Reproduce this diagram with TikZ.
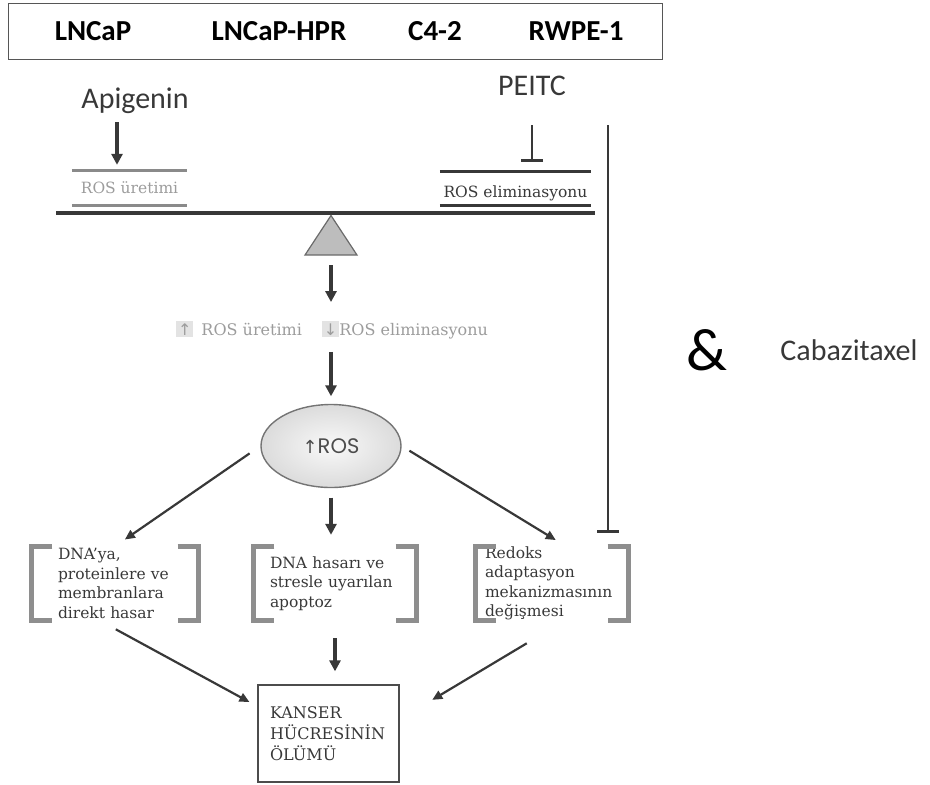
\documentclass[tikz,border=0pt]{standalone}
\usepackage{fontspec}
\setmainfont{DejaVu Serif}
\newfontfamily\carlito{Carlito}
\newfontfamily\poppins{Poppins}
\newfontfamily\dejasans{DejaVu Sans}
\usetikzlibrary{arrows.meta,positioning,calc,shapes.geometric}
\definecolor{ink}{HTML}{383838}
\definecolor{pangray}{HTML}{8A8A8A}
\definecolor{fadegray}{HTML}{9C9C9C}
\definecolor{brkgray}{HTML}{8E8E8E}
\definecolor{hilite}{HTML}{E3E3E3}
\definecolor{trigray}{HTML}{BDBDBD}
\setlength{\fboxsep}{2pt}
\newcommand{\upar}{{\dejasans ↑}}
\newcommand{\dnar}{{\dejasans ↓}}

\begin{document}
\begin{tikzpicture}[x=1pt,y=-1pt,
 cell/.style={inner sep=0pt,anchor=base,font=\carlito\bfseries\fontsize{29}{32}\selectfont},
 drug/.style={inner sep=0pt,anchor=base,text=ink,font=\carlito\fontsize{30}{34}\selectfont},
 pan/.style={minimum height=34pt,inner sep=0pt,text depth=0pt,font=\fontsize{15.5}{17}\selectfont},
 effect/.style={minimum height=74pt,inner ysep=0pt,align=left,text=ink,font=\fontsize{15.5}{19.5}\selectfont},
 brk/.style={draw=brkgray,line width=5.5pt,line join=miter},
 arr/.style={draw=ink,line width=2.2pt,-{Triangle[length=10pt,width=9pt]}},
 arrv/.style={draw=ink,line width=3.6pt,-{Triangle[length=11pt,width=11pt]}},
 inh/.style={draw=ink,line width=2.6pt,-{Bar[width=22pt,line width=3pt]}}]

\useasboundingbox (0,0) rectangle (930,785);

% cell lines
\node[draw=ink!85,line width=1pt,minimum width=654pt,minimum height=56pt,inner sep=0pt] (cells) at (335,31.5) {};
\node[cell] (lncap) at (93,40) {LNCaP};
\node[cell] (hpr) at (279,40) {LNCaP-HPR};
\node[cell] (c42) at (435,40) {C4-2};
\node[cell] (rwpe) at (576,40) {RWPE-1};

\node[drug] (api) at (135,108) {Apigenin};
\node[drug] (peitc) at (532,95) {PEITC};

% balance
\node[pan,minimum width=115pt,text=fadegray] (prod) at (129.5,188) {ROS üretimi};
\node[pan,minimum width=151pt,text=ink,text height=17pt] (elim) at (515.5,188.5) {ROS eliminasyonu};
\foreach \p/\c in {prod/pangray,elim/ink}{
  \draw[draw=\c,line width=3pt] (\p.north west) -- (\p.north east);
  \draw[draw=\c,line width=3pt] (\p.south west) -- (\p.south east);
}
\draw[draw=ink,line width=3.5pt] (56,213) -- (595,213);
\draw[draw=ink!75,fill=trigray,line width=1.2pt] (331,215.5) -- (357,255) -- (305,255) -- cycle;
\coordinate (pivot) at (331,255);

\node[inner sep=0pt,anchor=base,text=fadegray,font=\fontsize{16}{18}\selectfont] (shift) at (332,335)
 {\colorbox{hilite}{\upar}\hspace{8pt}ROS üretimi\hspace{20pt}\colorbox{hilite}{\dnar}ROS eliminasyonu};

\node[ellipse,draw=ink!70,line width=1.4pt,inner color=gray!5,outer color=gray!28,minimum width=140pt,minimum height=83pt,inner sep=0pt,text=ink!90] (ros) at (331,446)
 {{\dejasans\fontsize{18}{18}\selectfont ↑}{\poppins\fontsize{21}{21}\selectfont ROS}};

% effects
\node[effect,text width=114pt,inner xsep=26.5pt] (dmg1) at (115,583.5) {DNA'ya,\\ proteinlere ve\\ membranlara\\ direkt hasar};
\node[effect,text width=130pt,inner xsep=16.5pt] (dmg2) at (335,583.5) {DNA hasarı ve\\ stresle uyarılan\\ apoptoz};
\node[effect,text width=134pt,inner xsep=9.5pt] (dmg3) at (552,583.5) {Redoks\\ adaptasyon\\ mekanizmasının\\ değişmesi};
\foreach \n in {dmg1,dmg2,dmg3}{
  \draw[brk] ([xshift=21pt]\n.north west) -- (\n.north west) -- (\n.south west) -- ([xshift=21pt]\n.south west);
  \draw[brk] ([xshift=-21pt]\n.north east) -- (\n.north east) -- (\n.south east) -- ([xshift=-21pt]\n.south east);
}

\node[draw=ink!90,line width=1.3pt,minimum width=141pt,minimum height=97pt,text width=117pt,inner xsep=12pt,align=left,text=ink,font=\fontsize{16}{21}\selectfont] (death) at (328.5,733.5) {KANSER\\ HÜCRESİNİN\\ ÖLÜMÜ};

\node[inner sep=0pt,anchor=base,font=\carlito\fontsize{60}{60}\selectfont] (amp) at (707,370) {\&};
\node[drug] (caba) at (849,360) {Cabazitaxel};

% arrows
\draw[arrv,shorten <=9pt,shorten >=6pt] ($(api.south)+(-18,0)$) -- ($(prod.north)+(-12.5,0)$);
\draw[inh,shorten <=30pt,shorten >=9pt] (peitc.south) -- (peitc.south |- elim.north);
\draw[arrv,shorten <=10pt,shorten >=19pt] (pivot) -- (pivot |- shift.north);
\draw[arrv,shorten <=13pt,shorten >=7.5pt] (pivot |- shift.south) -- (pivot |- ros.north);
\draw[arr,shorten <=13pt,shorten >=12pt] (ros.west) -- (dmg1.north);
\draw[arrv,shorten <=9.5pt,shorten >=11.5pt] (ros.south) -- (ros.south |- dmg2.north);
\draw[arr,shorten <=9pt,shorten >=12pt] (ros.east) -- ([xshift=14pt]dmg3.north);
\coordinate (cabline) at (608,125);
\draw[inh,shorten >=13.5pt] (cabline) -- (cabline |- dmg3.north);
\draw[arr,shorten <=18pt,shorten >=9pt] ([xshift=-15pt]dmg1.south) -- ([yshift=-22pt]death.north west);
\draw[arrv,shorten <=17.5pt,shorten >=13pt] (dmg2.south) -- (dmg2.south |- death.north);
\draw[arr,shorten <=44pt,shorten >=38pt] ([xshift=12.5pt]dmg3.south) -- ([yshift=-35pt]death.north east);
\end{tikzpicture}
\end{document}
